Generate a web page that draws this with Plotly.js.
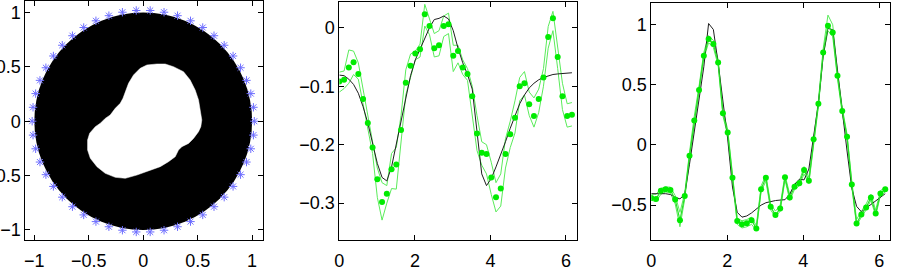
<!DOCTYPE html>
<html>
<head>
<meta charset="utf-8">
<script src="https://cdn.plot.ly/plotly-3.0.1.min.js"></script>
<style>html,body{margin:0;padding:0;background:#fff;}#chart{width:897px;height:270px;}</style>
</head>
<body>
<div id="chart"></div>
<script>
// ---------- Panel 1: domain (black disk) with white inclusion ----------
const diskRadius = 1;
const sensorRadius = 1.02;
const sensorCount = 50;
const inclusionX = [0.125,0.202,0.278,0.370,0.431,0.477,0.508,0.523,0.538,0.529,0.508,0.462,0.416,0.355,0.324,0.294,0.232,0.156,0.095,0.034,-0.058,-0.165,-0.257,-0.349,-0.425,-0.486,-0.511,-0.511,-0.492,-0.440,-0.394,-0.349,-0.303,-0.257,-0.211,-0.186,-0.165,-0.135,-0.089,-0.028,0.034,0.095,0.125];
const inclusionY = [0.526,0.526,0.501,0.455,0.379,0.287,0.195,0.103,0.011,-0.050,-0.096,-0.158,-0.204,-0.234,-0.265,-0.326,-0.372,-0.418,-0.442,-0.464,-0.495,-0.525,-0.516,-0.479,-0.418,-0.341,-0.265,-0.173,-0.111,-0.050,-0.019,0.026,0.057,0.118,0.164,0.210,0.271,0.348,0.425,0.486,0.517,0.526,0.526];

// ---------- Panels 2 and 3: sample angles 2*pi*k/50 ----------
const sampleCount = 50;
const theta = Array.from({length: sampleCount}, (_, k) => 2 * Math.PI * k / sampleCount);

// Panel 2 (middle)
const mid_true = [-0.081,-0.082,-0.088,-0.097,-0.112,-0.135,-0.163,-0.195,-0.232,-0.256,-0.262,-0.238,-0.200,-0.158,-0.118,-0.082,-0.055,-0.037,-0.018,0.000,0.014,0.016,0.020,0.015,-0.005,-0.035,-0.060,-0.080,-0.105,-0.180,-0.250,-0.270,-0.258,-0.238,-0.218,-0.195,-0.172,-0.150,-0.130,-0.115,-0.103,-0.095,-0.089,-0.085,-0.082,-0.080,-0.079,-0.078,-0.077,-0.077];
const mid_est = [-0.092,-0.089,-0.068,-0.059,-0.079,-0.122,-0.163,-0.205,-0.259,-0.298,-0.284,-0.242,-0.234,-0.175,-0.094,-0.065,-0.044,-0.037,0.023,0.003,-0.035,-0.030,0.003,0.006,-0.048,-0.040,-0.068,-0.079,-0.117,-0.181,-0.214,-0.216,-0.256,-0.290,-0.275,-0.216,-0.182,-0.154,-0.100,-0.095,-0.131,-0.151,-0.122,-0.085,-0.016,0.016,-0.050,-0.117,-0.151,-0.149];
const mid_upper = [-0.076,-0.074,-0.038,-0.040,-0.060,-0.105,-0.150,-0.190,-0.240,-0.265,-0.270,-0.215,-0.205,-0.150,-0.072,-0.045,-0.040,-0.028,0.040,0.015,-0.010,-0.005,0.020,0.025,-0.030,-0.030,-0.055,-0.070,-0.100,-0.150,-0.195,-0.200,-0.230,-0.265,-0.250,-0.190,-0.160,-0.125,-0.085,-0.075,-0.110,-0.120,-0.105,-0.070,0.002,0.028,-0.030,-0.095,-0.130,-0.128];
const mid_lower = [-0.110,-0.104,-0.095,-0.080,-0.088,-0.130,-0.172,-0.215,-0.290,-0.329,-0.300,-0.275,-0.276,-0.200,-0.115,-0.085,-0.055,-0.050,0.003,-0.012,-0.050,-0.048,-0.015,-0.010,-0.075,-0.060,-0.080,-0.090,-0.150,-0.210,-0.235,-0.250,-0.285,-0.315,-0.305,-0.240,-0.205,-0.180,-0.125,-0.115,-0.150,-0.170,-0.145,-0.100,-0.035,-0.005,-0.070,-0.140,-0.170,-0.168];

// Panel 3 (right)
const right_true = [-0.405,-0.405,-0.400,-0.405,-0.412,-0.435,-0.448,-0.410,-0.160,0.120,0.380,0.650,1.010,0.960,0.680,0.380,0.050,-0.350,-0.560,-0.600,-0.590,-0.565,-0.530,-0.500,-0.480,-0.470,-0.462,-0.458,-0.455,-0.410,-0.330,-0.285,-0.290,-0.200,0.060,0.345,0.740,0.970,0.958,0.610,0.250,-0.050,-0.360,-0.510,-0.555,-0.525,-0.495,-0.465,-0.435,-0.405];
const right_est = [-0.440,-0.450,-0.381,-0.367,-0.375,-0.453,-0.625,-0.425,-0.089,0.203,0.458,0.742,0.881,0.839,0.686,0.264,0.103,-0.272,-0.633,-0.660,-0.650,-0.625,-0.694,-0.367,-0.272,-0.514,-0.583,-0.528,-0.269,-0.436,-0.347,-0.319,-0.208,-0.297,0.047,0.342,0.769,0.992,0.936,0.575,0.283,0.069,-0.328,-0.653,-0.578,-0.519,-0.436,-0.569,-0.403,-0.367];
const right_upper = [-0.41,-0.41,-0.36,-0.35,-0.35,-0.42,-0.56,-0.40,-0.06,0.24,0.49,0.77,0.91,0.87,0.71,0.29,0.13,-0.24,-0.61,-0.63,-0.62,-0.60,-0.67,-0.34,-0.25,-0.49,-0.55,-0.50,-0.25,-0.41,-0.32,-0.30,-0.18,-0.27,0.07,0.37,0.80,1.08,1.00,0.60,0.31,0.09,-0.30,-0.62,-0.55,-0.49,-0.41,-0.54,-0.38,-0.35];
const right_lower = [-0.46,-0.47,-0.41,-0.39,-0.40,-0.49,-0.68,-0.45,-0.12,0.17,0.43,0.72,0.85,0.81,0.66,0.24,0.08,-0.30,-0.66,-0.69,-0.68,-0.66,-0.71,-0.39,-0.30,-0.54,-0.60,-0.55,-0.29,-0.46,-0.37,-0.34,-0.24,-0.32,0.02,0.32,0.74,0.95,0.90,0.55,0.26,0.05,-0.35,-0.67,-0.60,-0.54,-0.46,-0.59,-0.42,-0.39];

// Tick values
const p1Ticks = [-1, -0.5, 0, 0.5, 1];
const p2YTicks = [-0.3, -0.2, -0.1, 0];
const p3YTicks = [-0.5, 0, 0.5, 1];
const angleTicks = [0, 2, 4, 6];

// ---------- styles ----------
const bandColor = 'rgb(90,235,90)';
const dotColor = 'rgb(0,235,0)';
const trueColor = 'rgb(30,30,30)';

const sensorAngles = Array.from({length: sensorCount}, (_, k) => 2 * Math.PI * k / sensorCount);

const traces = [
  {x: inclusionX, y: inclusionY, xaxis: 'x', yaxis: 'y', mode: 'lines', fill: 'toself',
   fillcolor: 'white', line: {color: 'white', width: 0.5}, hoverinfo: 'skip'},
  {x: sensorAngles.map(a => sensorRadius * Math.cos(a)), y: sensorAngles.map(a => sensorRadius * Math.sin(a)),
   xaxis: 'x', yaxis: 'y', mode: 'markers',
   marker: {symbol: 'asterisk-open', size: 7, color: 'rgb(110,110,255)', line: {color: 'rgb(110,110,255)', width: 1}}},

  {x: theta, y: mid_upper, xaxis: 'x2', yaxis: 'y2', mode: 'lines', line: {color: bandColor, width: 1}},
  {x: theta, y: mid_lower, xaxis: 'x2', yaxis: 'y2', mode: 'lines', line: {color: bandColor, width: 1}},
  {x: theta, y: mid_true, xaxis: 'x2', yaxis: 'y2', mode: 'lines', line: {color: trueColor, width: 1}},
  {x: theta, y: mid_est, xaxis: 'x2', yaxis: 'y2', mode: 'markers', marker: {color: dotColor, size: 6}},

  {x: theta, y: right_upper, xaxis: 'x3', yaxis: 'y3', mode: 'lines', line: {color: bandColor, width: 1}},
  {x: theta, y: right_lower, xaxis: 'x3', yaxis: 'y3', mode: 'lines', line: {color: bandColor, width: 1}},
  {x: theta, y: right_true, xaxis: 'x3', yaxis: 'y3', mode: 'lines', line: {color: trueColor, width: 1}},
  {x: theta, y: right_est, xaxis: 'x3', yaxis: 'y3', mode: 'lines+markers',
   line: {color: 'rgb(40,225,40)', width: 1.2}, marker: {color: dotColor, size: 6}}
];

const axisBase = {
  showgrid: false, zeroline: false, showline: true, linecolor: 'black', linewidth: 1,
  mirror: 'ticks', ticks: 'inside', ticklen: 5, tickcolor: 'black', tickwidth: 1,
  tickfont: {family: 'Liberation Sans, Arial, sans-serif', size: 18, color: 'black'},
  tickmode: 'array'
};
const xBase = Object.assign({}, axisBase, {ticklabelstandoff: 4});

const layout = {
  width: 897, height: 270,
  margin: {l: 0, r: 0, t: 0, b: 0},
  paper_bgcolor: 'white', plot_bgcolor: 'white',
  showlegend: false,
  xaxis: Object.assign({}, xBase, {domain: [0.0282, 0.2932], range: [-1.083, 1.10], tickvals: p1Ticks, anchor: 'y'}),
  yaxis: Object.assign({}, axisBase, {domain: [0.1111, 0.9963], range: [-1.092, 1.105], tickvals: p1Ticks, anchor: 'x'}),
  xaxis2: Object.assign({}, xBase, {domain: [0.3783, 0.6429], range: [0, 2 * Math.PI], tickvals: angleTicks, anchor: 'y2'}),
  yaxis2: Object.assign({}, axisBase, {domain: [0.1111, 0.9926], range: [-0.363, 0.044], tickvals: p2YTicks, anchor: 'x2'}),
  xaxis3: Object.assign({}, xBase, {domain: [0.7261, 0.9922], range: [0, 2 * Math.PI], tickvals: angleTicks, anchor: 'y3'}),
  yaxis3: Object.assign({}, axisBase, {domain: [0.1111, 0.9900], range: [-0.79, 1.183], tickvals: p3YTicks, anchor: 'x3'}),
  shapes: [
    {type: 'circle', xref: 'x', yref: 'y', x0: -diskRadius, x1: diskRadius, y0: -diskRadius, y1: diskRadius,
     fillcolor: 'black', line: {color: 'black', width: 0}, layer: 'below'}
  ]
};

Plotly.newPlot('chart', traces, layout, {staticPlot: true, displayModeBar: false});
</script>
</body>
</html>
